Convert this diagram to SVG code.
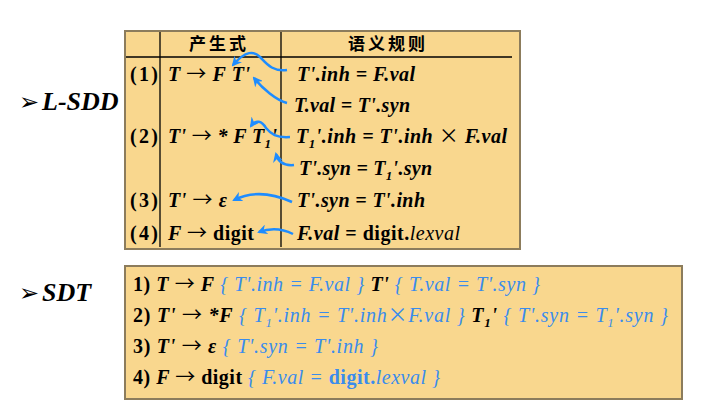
<svg xmlns="http://www.w3.org/2000/svg" width="710" height="412" viewBox="0 0 710 412">
<defs>
<marker id="ah" viewBox="0 0 10 10" refX="8" refY="5" markerWidth="4" markerHeight="4" orient="auto" markerUnits="strokeWidth">
<path d="M0,0 L10,5 L0,10 L3,5 z" fill="#1e8cff"/>
</marker>
<style>
text{font-family:"Liberation Serif","DejaVu Serif",serif;font-size:20px;fill:#000}
.b{font-weight:bold}
.bi{font-weight:bold;font-style:italic}
.i{font-style:italic;font-weight:normal}
.u{font-style:normal}
.blue{fill:#3a8cec;font-style:italic;font-weight:normal}
.cjk{font-family:"Noto Sans CJK SC","Noto Sans CJK JP",sans-serif;font-size:17px;font-weight:bold;letter-spacing:3px}
.box{fill:#f9d78e;stroke:#8c7c5c;stroke-width:2}
.ln{stroke:#000;stroke-width:1.3;fill:none}
.arr{fill:none;stroke:#1e8cff;stroke-width:2.5;marker-end:url(#ah)}
.sub{font-size:13px}
.x{font-family:"Noto Sans CJK SC",sans-serif;font-weight:normal;font-style:normal}
.to{font-family:"Noto Sans CJK SC",sans-serif;font-weight:normal;font-style:normal}
.bul{font-family:"DejaVu Sans",sans-serif;font-size:24px;font-style:normal;font-weight:normal}
.lab{font-size:26px;font-weight:bold;font-style:italic}
</style>
</defs>
<rect width="710" height="412" fill="#fff"/>

<g id="label-lsdd">
<text class="lab" x="19" y="110"><tspan class="bul">➢</tspan><tspan x="42">L-SDD</tspan></text>
</g>
<g id="label-sdt">
<text class="lab" x="19" y="301"><tspan class="bul">➢</tspan><tspan x="42">SDT</tspan></text>
</g>

<g id="lsdd-table">
<rect class="box" x="125" y="31" width="395" height="218"/>
<line class="ln" x1="126" y1="57" x2="512" y2="57"/>
<line class="ln" x1="160" y1="32" x2="160" y2="247"/>
<line class="ln" x1="281" y1="32" x2="281" y2="247"/>
<text class="cjk" x="189" y="50">产生式</text>
<text class="cjk" x="348" y="50">语义规则</text>

<text class="b" x="130" y="81" textLength="28" lengthAdjust="spacing">(1)</text>
<text class="bi" x="168" y="81" textLength="82" lengthAdjust="spacing">T <tspan class="to">→</tspan> F T'</text>
<text class="bi" x="297" y="81" textLength="118" lengthAdjust="spacing">T'.inh = F.val</text>
<text class="bi" x="294" y="112" textLength="116" lengthAdjust="spacing">T.val = T'.syn</text>

<text class="b" x="130" y="143" textLength="28" lengthAdjust="spacing">(2)</text>
<text class="bi" x="168" y="143" textLength="109" lengthAdjust="spacing">T' <tspan class="to">→</tspan> * F T<tspan class="sub" dy="5">1</tspan><tspan dy="-5">'</tspan></text>
<text class="bi" x="296" y="143" textLength="211" lengthAdjust="spacing">T<tspan class="sub" dy="5">1</tspan><tspan dy="-5">'.inh = T'.inh </tspan><tspan class="x">×</tspan> F.val</text>
<text class="bi" x="299" y="175" textLength="133" lengthAdjust="spacing">T'.syn = T<tspan class="sub" dy="5">1</tspan><tspan dy="-5">'.syn</tspan></text>

<text class="b" x="130" y="207" textLength="28" lengthAdjust="spacing">(3)</text>
<text class="bi" x="168" y="207" textLength="59" lengthAdjust="spacing">T' <tspan class="to">→</tspan> ε</text>
<text class="bi" x="297" y="207" textLength="128" lengthAdjust="spacing">T'.syn = T'.inh</text>

<text class="b" x="130" y="240" textLength="28" lengthAdjust="spacing">(4)</text>
<text class="bi" x="168" y="240" textLength="86" lengthAdjust="spacing">F <tspan class="to">→</tspan> <tspan class="u">digit</tspan></text>
<text class="bi" x="297" y="240" textLength="163" lengthAdjust="spacing">F.val <tspan class="u">= digit.</tspan><tspan class="i">lexval</tspan></text>
</g>

<g id="sdt-box">
<rect class="box" x="125" y="266" width="557" height="133"/>
<text class="b" x="133" y="291" textLength="407" lengthAdjust="spacing">1) <tspan class="bi">T <tspan class="to">→</tspan> F</tspan> <tspan class="blue">{ T'.inh = F.val }</tspan> <tspan class="bi">T'</tspan> <tspan class="blue">{ T.val = T'.syn }</tspan></text>
<text class="b" x="133" y="322" textLength="535" lengthAdjust="spacing">2) <tspan class="bi">T' <tspan class="to">→</tspan> *F</tspan> <tspan class="blue">{ T<tspan class="sub" dy="5">1</tspan><tspan dy="-5">'.inh = T'.inh</tspan><tspan class="x">×</tspan>F.val }</tspan> <tspan class="bi">T<tspan class="sub" dy="5">1</tspan><tspan dy="-5">'</tspan></tspan> <tspan class="blue">{ T'.syn = T<tspan class="sub" dy="5">1</tspan><tspan dy="-5">'.syn }</tspan></tspan></text>
<text class="b" x="133" y="353" textLength="245" lengthAdjust="spacing">3) <tspan class="bi">T' <tspan class="to">→</tspan> ε</tspan> <tspan class="blue">{ T'.syn = T'.inh }</tspan></text>
<text class="b" x="133" y="384" textLength="307" lengthAdjust="spacing">4) <tspan class="bi">F <tspan class="to">→</tspan></tspan> digit <tspan class="blue">{ F.val = <tspan class="b u">digit.</tspan>lexval }</tspan></text>
</g>

<g id="connectors">
<path class="arr" d="M287,70 C272,72 266,63 260,57 C254,51 246,50 233,65"/>
<path class="arr" d="M287,103 C276,100 263,89 254,78"/>
<path class="arr" d="M290,137 C276,138 271,134 266,128 C262,121 256,119 251,126"/>
<path class="arr" d="M294,165 C283,166 278,162 276,154"/>
<path class="arr" d="M292,202 C272,193 252,191 234,200"/>
<path class="arr" d="M293,234 C281,228 270,228 259,232"/>
</g>
</svg>
